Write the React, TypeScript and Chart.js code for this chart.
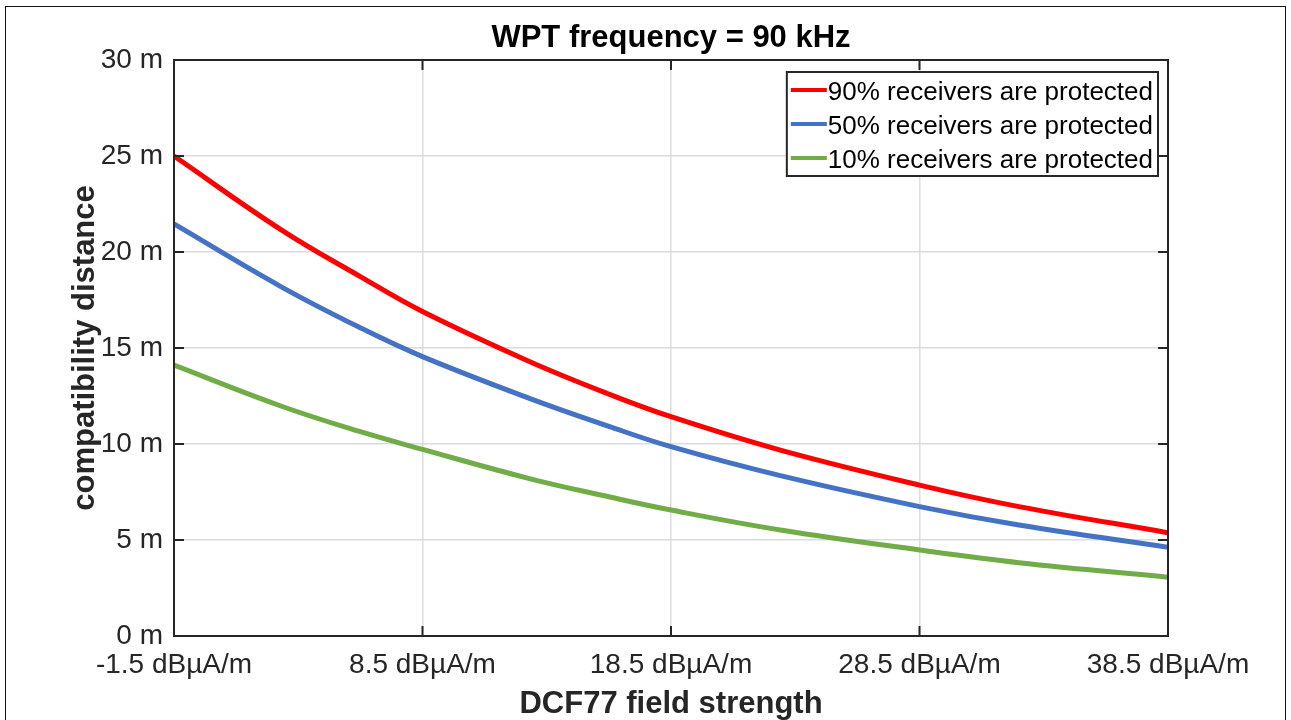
import React, { useEffect, useRef } from "react";
import { Chart, registerables } from "chart.js";

Chart.register(...registerables);

const chartTitle = "WPT frequency = 90 kHz";
const xAxisTitle = "DCF77 field strength";
const yAxisTitle = "compatibility distance";

// field strength (dBµA/m) at which values were read
const fieldStrength = [-1.5, 2.8, 6, 8.5, 12.8, 16, 18.5, 22.9, 28.5, 32.5, 38.5];

const protected90 = [25.0, 21.17, 18.72, 16.9, 14.3, 12.6, 11.42, 9.68, 7.86, 6.74, 5.38];
const protected50 = [21.46, 18.2, 16.05, 14.55, 12.38, 10.92, 9.86, 8.35, 6.74, 5.78, 4.62];
const protected10 = [14.11, 11.98, 10.64, 9.72, 8.2, 7.25, 6.56, 5.52, 4.48, 3.82, 3.06];

const seriesLabels = [
  "90% receivers are protected",
  "50% receivers are protected",
  "10% receivers are protected",
];
const seriesColors = ["#ff0000", "#4472c4", "#70ad47"];

const xTickValues = [-1.5, 8.5, 18.5, 28.5, 38.5];
const yTickValues = [0, 5, 10, 15, 20, 25, 30];

const FONT = "'Liberation Sans', Arial, Helvetica, sans-serif";
const AXIS_COLOR = "#262626";

const titlePlugin = {
  id: "matlabTitle",
  afterDraw(chart: any) {
    const { ctx, chartArea } = chart;
    ctx.save();
    ctx.font = `bold 31px ${FONT}`;
    ctx.fillStyle = "#000000";
    ctx.textAlign = "center";
    ctx.textBaseline = "middle";
    ctx.fillText(chartTitle, (chartArea.left + chartArea.right) / 2, chartArea.top - 22);
    ctx.restore();
  },
};

const framePlugin = {
  id: "matlabFrame",
  afterDatasetsDraw(chart: any) {
    const { ctx, chartArea } = chart;
    const { left, right, top, bottom } = chartArea;
    const xs = chart.scales.x;
    const ys = chart.scales.y;
    ctx.save();
    ctx.strokeStyle = AXIS_COLOR;
    ctx.lineWidth = 2;
    ctx.beginPath();
    const tl = 10;
    xTickValues.forEach((v) => {
      const px = xs.getPixelForValue(v);
      ctx.moveTo(px, bottom);
      ctx.lineTo(px, bottom - tl);
      ctx.moveTo(px, top);
      ctx.lineTo(px, top + tl);
    });
    yTickValues.forEach((v) => {
      const py = ys.getPixelForValue(v);
      ctx.moveTo(left, py);
      ctx.lineTo(left + tl, py);
      ctx.moveTo(right, py);
      ctx.lineTo(right - tl, py);
    });
    ctx.stroke();
    ctx.strokeRect(left, top, right - left, bottom - top);
    ctx.restore();
  },
};

const legendPlugin = {
  id: "matlabLegend",
  afterDraw(chart: any) {
    const { ctx, chartArea } = chart;
    ctx.save();
    ctx.font = `26px ${FONT}`;
    const datasets = chart.data.datasets;
    let maxW = 0;
    datasets.forEach((d: any) => {
      maxW = Math.max(maxW, ctx.measureText(d.label).width);
    });
    const boxW = 40 + maxW + 6;
    const boxH = 104;
    const boxRight = chartArea.right - 10;
    const boxLeft = boxRight - boxW;
    const boxTop = chartArea.top + 12;
    ctx.fillStyle = "#ffffff";
    ctx.fillRect(boxLeft, boxTop, boxW, boxH);
    ctx.strokeStyle = AXIS_COLOR;
    ctx.lineWidth = 2;
    ctx.strokeRect(boxLeft, boxTop, boxW, boxH);
    datasets.forEach((d: any, i: number) => {
      const cy = boxTop + 18 + i * 34;
      ctx.strokeStyle = d.borderColor;
      ctx.lineWidth = 4;
      ctx.beginPath();
      ctx.moveTo(boxLeft + 4, cy);
      ctx.lineTo(boxLeft + 40, cy);
      ctx.stroke();
      ctx.fillStyle = "#000000";
      ctx.textAlign = "left";
      ctx.textBaseline = "middle";
      ctx.fillText(d.label, boxLeft + 41, cy + 3);
    });
    ctx.restore();
  },
};

export default function App() {
  const canvasRef = useRef<HTMLCanvasElement | null>(null);

  useEffect(() => {
    document.body.style.margin = "0";
    const canvas = canvasRef.current;
    if (!canvas) return;
    const seriesValues = [protected90, protected50, protected10];
    const chart = new Chart(canvas, {
      type: "line",
      data: {
        datasets: seriesValues.map((vals, i) => ({
          label: seriesLabels[i],
          data: fieldStrength.map((x, j) => ({ x, y: vals[j] })),
          borderColor: seriesColors[i],
          backgroundColor: seriesColors[i],
          borderWidth: 5,
          pointRadius: 0,
          fill: false,
          tension: 0.4,
        })),
      },
      options: {
        animation: false,
        responsive: false,
        devicePixelRatio: 1,
        layout: { padding: { left: 0, right: 123, top: 60, bottom: 0 } },
        plugins: {
          legend: { display: false },
          tooltip: { enabled: false },
          title: { display: false },
        },
        scales: {
          x: {
            type: "linear",
            min: -1.5,
            max: 38.5,
            afterBuildTicks: (scale: any) => {
              scale.ticks = xTickValues.map((v) => ({ value: v }));
            },
            afterFit: (scale: any) => {
              scale.height = 84;
            },
            ticks: {
              color: AXIS_COLOR,
              font: { family: FONT, size: 28, lineHeight: 1.2 },
              padding: 12,
              maxRotation: 0,
              autoSkip: false,
              callback: (v: any) => `${v} dBµA/m`,
            },
            grid: {
              color: "#dcdcdc",
              lineWidth: 1.5,
              drawTicks: false,
            },
            border: { display: false },
            title: {
              display: true,
              text: xAxisTitle,
              color: "#262626",
              font: { family: FONT, size: 31, weight: "bold", lineHeight: 1 },
              padding: { top: 0, bottom: 0.5 },
            },
          },
          y: {
            type: "linear",
            min: 0,
            max: 30,
            afterBuildTicks: (scale: any) => {
              scale.ticks = yTickValues.map((v) => ({ value: v }));
            },
            afterFit: (scale: any) => {
              scale.width = 174;
            },
            ticks: {
              color: AXIS_COLOR,
              font: { family: FONT, size: 28, lineHeight: 1.2 },
              padding: 11,
              callback: (v: any) => `${v} m`,
            },
            grid: {
              color: "#dcdcdc",
              lineWidth: 1.5,
              drawTicks: false,
            },
            border: { display: false },
            title: {
              display: true,
              text: yAxisTitle,
              color: "#262626",
              font: { family: FONT, size: 31, weight: "bold", lineHeight: 1.2 },
              padding: { top: 66.4, bottom: 0 },
            },
          },
        },
      },
      plugins: [framePlugin, legendPlugin, titlePlugin],
    });
    return () => chart.destroy();
  }, []);

  return (
    <div style={{ position: "relative", width: 1291, height: 720, overflow: "hidden", background: "#ffffff" }}>
      <canvas ref={canvasRef} width={1291} height={720} style={{ position: "absolute", left: 0, top: 0 }} />
      <div
        style={{
          position: "absolute",
          left: 5,
          top: 6,
          width: 1281,
          height: 720,
          border: "1.5px solid #111",
          boxSizing: "border-box",
          pointerEvents: "none",
        }}
      />
    </div>
  );
}
